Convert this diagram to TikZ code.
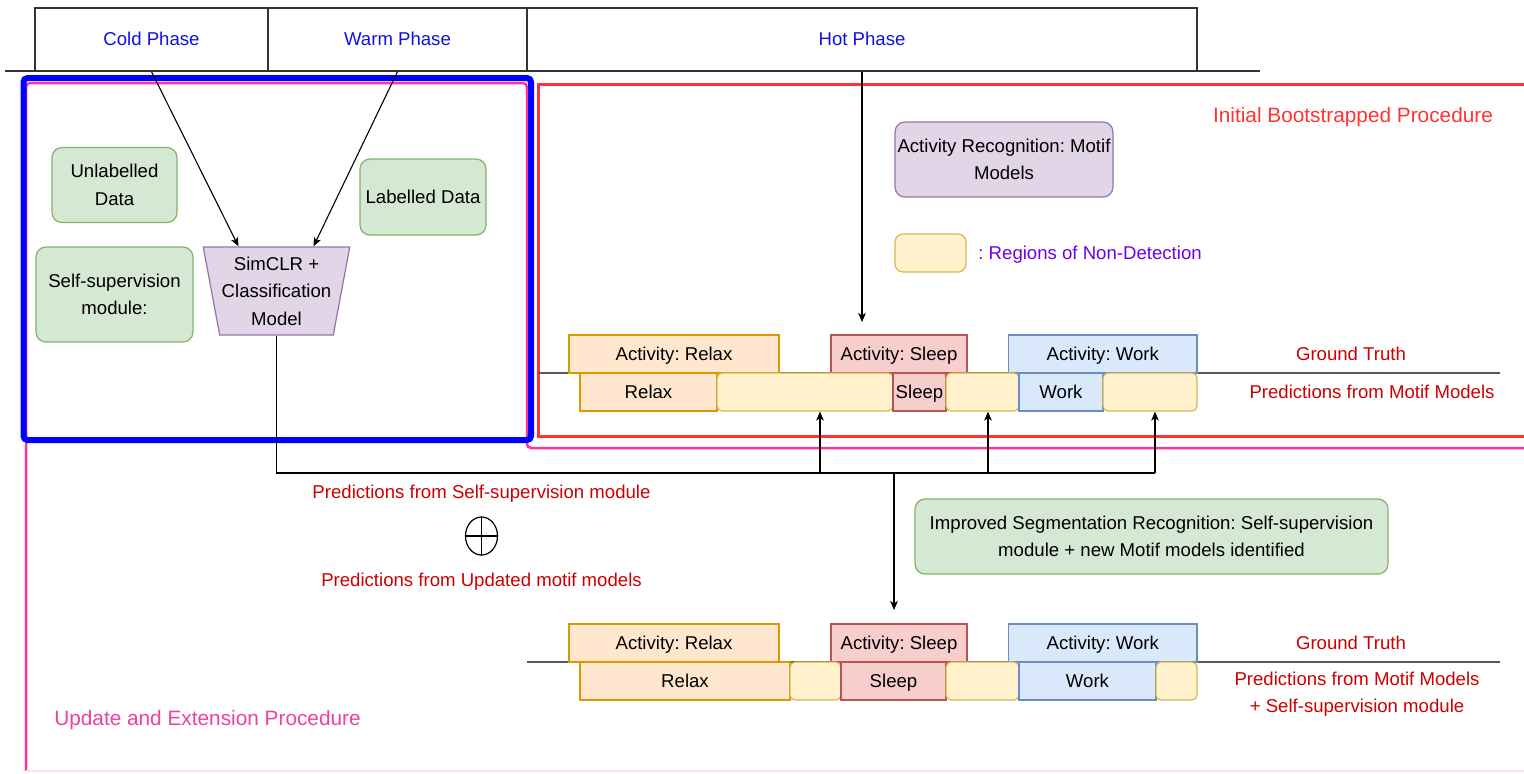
\documentclass[tikz,border=0pt]{standalone}
\usepackage{fontspec}
\setmainfont{Liberation Sans}
\usetikzlibrary{shapes.geometric,arrows.meta,calc}
\frenchspacing

\definecolor{phaseblue}{HTML}{1010E0}
\definecolor{darkred}{HTML}{CC0000}
\definecolor{initred}{HTML}{FF3333}
\definecolor{pinkline}{HTML}{FF3399}
\definecolor{pinktext}{HTML}{F0409A}
\definecolor{pinkpale}{HTML}{FFDDF6}
\definecolor{legendviolet}{HTML}{7000E0}
\definecolor{greenfill}{HTML}{D5E8D4}
\definecolor{greenline}{HTML}{82B366}
\definecolor{purplefill}{HTML}{E1D5E7}
\definecolor{purpleline}{HTML}{9673A6}
\definecolor{yellowfill}{HTML}{FFF2CC}
\definecolor{yellowline}{HTML}{D6B656}
\definecolor{orangefill}{HTML}{FFE6CC}
\definecolor{orangeline}{HTML}{D79B00}
\definecolor{redfill}{HTML}{F8CECC}
\definecolor{redline}{HTML}{B85450}
\definecolor{bluefill}{HTML}{DAE8FC}
\definecolor{blueline}{HTML}{6C8EBF}

\begin{document}
\begin{tikzpicture}[x=0.5pt,y=-0.5pt,
  bw/.style={minimum width=#1*0.5pt},
  bh/.style={minimum height=#1*0.5pt},
  txt/.style={font=\fontsize{9.3}{13.8}\selectfont, inner sep=0pt, align=center},
  oneline/.style={text height=6.6pt, text depth=0.3pt},
  bigtxt/.style={font=\fontsize{10.4}{12.5}\selectfont, inner sep=0pt, align=center},
  cell/.style={txt, oneline, draw=black!80, line width=0.6pt, bh=63, text=phaseblue},
  gbox/.style={txt, draw=greenline, fill=greenfill, rounded corners=5pt, line width=0.6pt},
  pbox/.style={txt, draw=purpleline, fill=purplefill, rounded corners=5pt, line width=0.6pt},
  seg/.style={txt, oneline, bh=38, line width=0.6pt},
  oseg/.style={seg, draw=orangeline, fill=orangefill},
  rseg/.style={seg, draw=redline, fill=redfill},
  bseg/.style={seg, draw=blueline, fill=bluefill},
  yseg/.style={seg, draw=yellowline, fill=yellowfill, rounded corners=2.5pt},
  gtline/.style={draw=black!65, line width=1pt},
  conn/.style={draw=black, line width=0.55pt},
  arr/.style={conn, -{Stealth[length=4.5pt,width=3.8pt,inset=1.2pt]}},
  lbl/.style={txt, text=darkred}
]
\useasboundingbox (0,0) rectangle (1524,773);
\clip (0,0) rectangle (1524,773);

% procedure frames
\draw[pinkline, line width=1.25pt, rounded corners=2pt]
  (1540,448) -- (527,448) -- (527,83) -- (26,83) -- (26,771);
\draw[pinkpale, line width=1.25pt] (26,771) -- (1540,771);
\draw[blue, line width=3pt, rounded corners=2pt] (23.5,78) rectangle (531,440);
\draw[initred, line width=1.5pt] (538,84) rectangle (1540,436);

% phase header
\node[cell, bw=233] (cold) at (151.5,39.5) {Cold Phase};
\node[cell, bw=259] (warm) at (397.5,39.5) {Warm Phase};
\node[cell, bw=670] (hot)  at (862,39.5)   {Hot Phase};
\coordinate (baseL) at (5,71);
\coordinate (baseR) at (1260,71);
\draw[draw=black!80, line width=0.6pt] (baseL) -- (baseR);

% self-supervision module
\node[gbox, bw=125, bh=75] (unl) at (114.5,185) {Unlabelled\\Data};
\node[gbox, bw=157, bh=95] (ssm) at (114.5,294.5) {Self-supervision\\module:};
\node[gbox, oneline, bw=126, bh=76] (lab) at (423,197) {Labelled Data};
\node[txt, trapezium, shape border rotate=180, trapezium angle=77,
      trapezium stretches=true, bw=147, bh=88,
      draw=purpleline, fill=purplefill, line width=0.6pt] (simclr) at (276.5,291)
      {SimCLR +\\Classification\\Model};

% motif models and legend
\node[pbox, bw=218, bh=75] (arm) at (1004,159.5) {Activity Recognition: Motif\\Models};
\node[yseg, bw=71, rounded corners=4pt] (legend) at (930.5,253) {};
\node[txt, oneline, anchor=west, text=legendviolet] (legendtxt) at (978,253) {: Regions of Non-Detection};
\node[bigtxt, text=initred] (ibp) at (1353,117) {Initial Bootstrapped Procedure};

% first timeline
\coordinate (tl1L) at (538,373);
\coordinate (tl1R) at (1500,373);
\draw[gtline] (tl1L) -- (tl1R);
\node[oseg, bw=210]   (gA1) at (674,354)    {Activity: Relax};
\node[rseg, bw=136]   (gA2) at (899,354)    {Activity: Sleep};
\node[bseg, bw=188.5] (gA3) at (1102.75,354) {Activity: Work};
\node[oseg, bw=137] (rB)  at (648.5,392) {Relax};
\node[yseg, bw=176] (yB1) at (805,392)   {};
\node[rseg, bw=53]  (sB)  at (919.5,392) {Sleep};
\node[yseg, bw=73]  (yB2) at (982.5,392) {};
\node[bseg, bw=84]  (wB)  at (1061,392)  {Work};
\node[yseg, bw=94]  (yB3) at (1150,392)  {};
\node[lbl, oneline] (gt1) at (1351,354) {Ground Truth};
\node[lbl, oneline] (pm1) at (1372,392) {Predictions from Motif Models};

% second timeline
\coordinate (tl2L) at (527,662);
\coordinate (tl2R) at (1500,662);
\draw[gtline] (tl2L) -- (tl2R);
\node[oseg, bw=210]   (gC1) at (674,643)    {Activity: Relax};
\node[rseg, bw=136]   (gC2) at (899,643)    {Activity: Sleep};
\node[bseg, bw=188.5] (gC3) at (1102.75,643) {Activity: Work};
\node[oseg, bw=210] (rD)  at (685,681)    {Relax};
\node[yseg, bw=51]  (yD1) at (815.5,681)  {};
\node[rseg, bw=105] (sD)  at (893.5,681)  {Sleep};
\node[yseg, bw=73]  (yD2) at (982.5,681)  {};
\node[bseg, bw=137] (wD)  at (1087.5,681) {Work};
\node[yseg, bw=41]  (yD3) at (1176.5,681) {};
\node[lbl, oneline] (gt2) at (1351,643) {Ground Truth};
\node[lbl] (pm2) at (1357,694) {Predictions from Motif Models\\+ Self-supervision module};

% combination of predictions
\node[lbl, oneline] (pss) at (481.5,492) {Predictions from Self-supervision module};
\node[draw, ellipse, bw=32, bh=38, inner sep=0pt, line width=0.6pt] (oplus) at (481.5,536) {};
\draw[line width=0.6pt] (oplus.north) -- (oplus.south);
\draw[line width=0.6pt] (oplus.west) -- (oplus.east);
\node[lbl, oneline] (pum) at (481.5,580) {Predictions from Updated motif models};
\node[gbox, bw=473, bh=75] (isr) at (1151.5,536.5)
  {Improved Segmentation Recognition: Self-supervision\\module + new Motif models identified};
\node[bigtxt, text=pinktext] (uep) at (207.5,720) {Update and Extension Procedure};

% connectors
\draw[arr] (cold.south) -- ($(simclr.north)+(-38,0)$);
\draw[arr] (warm.south) -- ($(simclr.north)+(37,0)$);
\coordinate (hotEnd) at (862,322);
\draw[arr] (hot.south) -- (hotEnd);
\coordinate (busR) at (1155,473);
\draw[conn] (simclr.south) |- (busR);
\coordinate (tapA) at (820,473);
\coordinate (tapB) at (988,473);
\coordinate (tapC) at (1155,473);
\draw[arr] (tapA) -- (tapA |- yB1.south);
\draw[arr] (tapB) -- (tapB |- yB2.south);
\draw[arr] (tapC) -- (tapC |- yB3.south);
\coordinate (tapD) at (894,473);
\coordinate (downEnd) at (894,610);
\draw[arr] (tapD) -- (downEnd);
\end{tikzpicture}
\end{document}
